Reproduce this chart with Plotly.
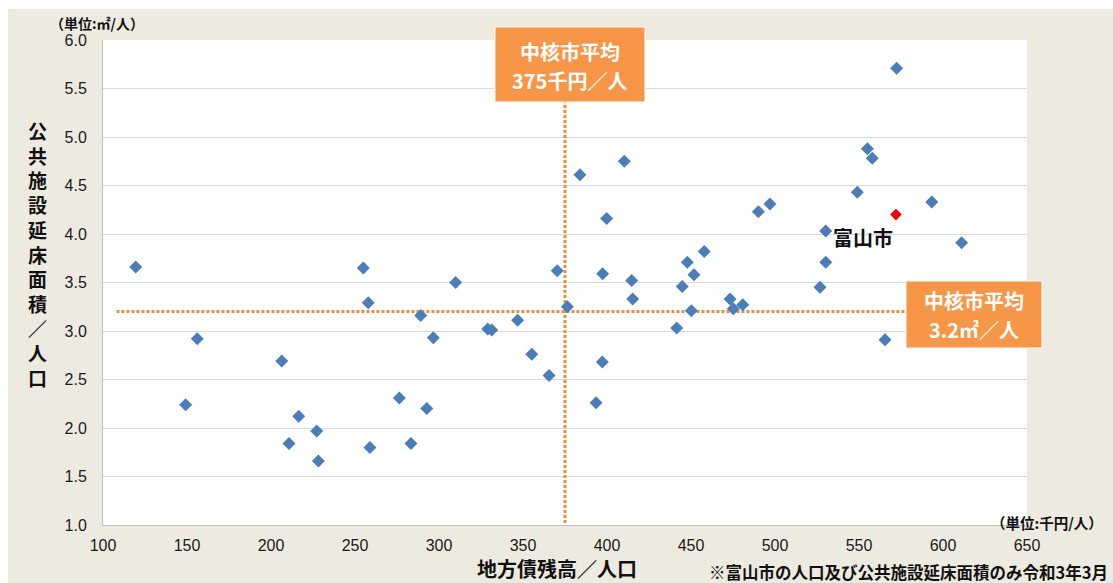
import plotly.graph_objects as go

# Core cities: local bond balance per capita (thousand yen) vs. public facility floor area per capita (m2)
debt_per_capita = [
    119.5, 156.1, 149.2, 206.4, 210.7, 216.5, 227.2, 228.2, 254.9, 257.9,
    258.9, 276.4, 283.3, 289.1, 292.7, 296.6, 309.9, 329.0, 331.4, 346.8,
    355.2, 365.5, 370.4, 376.4, 383.9, 393.5, 397.2, 397.4, 399.8, 410.3,
    414.7, 415.3, 441.5, 444.8, 447.8, 450.2, 451.8, 457.9, 473.2, 475.2,
    480.8, 490.1, 497.0, 526.8, 530.2, 530.2, 549.0, 555.0, 557.9, 565.5,
    572.4, 593.3, 611.1,
]
floor_area_per_capita = [
    3.66, 2.92, 2.24, 2.69, 1.84, 2.12, 1.97, 1.66, 3.65, 3.29,
    1.80, 2.31, 1.84, 3.16, 2.20, 2.93, 3.50, 3.02, 3.01, 3.11,
    2.76, 2.54, 3.62, 3.25, 4.61, 2.26, 2.68, 3.59, 4.16, 4.75,
    3.52, 3.33, 3.03, 3.46, 3.71, 3.21, 3.58, 3.82, 3.33, 3.23,
    3.27, 4.23, 4.31, 3.45, 4.03, 3.71, 4.43, 4.88, 4.78, 2.91,
    5.71, 4.33, 3.91,
]

toyama_name = "富山市"
toyama_debt = 572
toyama_area = 4.2

avg_debt = 375      # core-city average, thousand yen per person
avg_area = 3.2      # core-city average, m2 per person

x_ticks = [100, 150, 200, 250, 300, 350, 400, 450, 500, 550, 600, 650]
y_ticks = [1.0, 1.5, 2.0, 2.5, 3.0, 3.5, 4.0, 4.5, 5.0, 5.5, 6.0]

y_title = "公共施設延床面積／人口"
x_title = "地方債残高／人口"
y_unit = "（単位:㎡/人）"
x_unit = "（単位:千円/人）"
note = "※富山市の人口及び公共施設延床面積のみ令和3年3月"
box_debt = ["中核市平均", f"{avg_debt}千円／人"]
box_area = ["中核市平均", f"{avg_area}㎡／人"]

BLUE = "#4A7EBB"
ORANGE = "#F79646"
DOT = "#F28C36"
BG = "#EDEAE0"
JP = "Noto Sans CJK JP"
NUM = "Liberation Sans"

fig = go.Figure()

# dotted average lines
dotted = dict(color=DOT, width=3, dash="3px,2px")
fig.add_trace(go.Scatter(
    x=[avg_debt, avg_debt], y=[1.02, 5.36], mode="lines",
    line=dotted, hoverinfo="skip",
))
fig.add_trace(go.Scatter(
    x=[108, 578], y=[avg_area, avg_area], mode="lines",
    line=dotted, hoverinfo="skip",
))

# cities
fig.add_trace(go.Scatter(
    x=debt_per_capita, y=floor_area_per_capita, mode="markers",
    marker=dict(symbol="diamond", size=10, color=BLUE, line=dict(width=0)),
))
fig.add_trace(go.Scatter(
    x=[toyama_debt], y=[toyama_area], mode="markers",
    marker=dict(symbol="diamond", size=9, color="#FF0000", line=dict(width=0)),
))


def label(text, x, y, size, color="#111111", xanchor="center", xref="paper", yref="paper"):
    return dict(text=f"<b>{text}</b>", xref=xref, yref=yref, x=x, y=y,
                xanchor=xanchor, yanchor="middle", showarrow=False,
                font=dict(family=JP, size=size, color=color))


annotations = [
    dict(text="<br>".join(f"<b>{c}</b>" for c in y_title),
         xref="paper", yref="paper", x=-0.0714, y=0.5588,
         xanchor="center", yanchor="middle", showarrow=False,
         font=dict(family=JP, size=19, color="#111111")),
    label(y_unit, -0.0595, 1.035, 14, xanchor="left"),
    label(x_title, 0.4913, -0.0907, 20),
    label(x_unit, 1.0844, 0.006, 14.5, xanchor="right"),
    label(note, 1.0898, -0.0969, 16.5, xanchor="right"),
    label(toyama_name, 552.4, 3.96, 20, xref="x", yref="y"),
    # average callout boxes, one annotation per line
    label(box_debt[0], 0.5054, 0.9753, 20, color="#FFFFFF"),
    label(box_debt[1], 0.5054, 0.9175, 20, color="#FFFFFF"),
    label(box_area[0], 0.9426, 0.4625, 20, color="#FFFFFF"),
    label(box_area[1], 0.9426, 0.4021, 20, color="#FFFFFF"),
]

shapes = [
    # thin white frame around the beige panel (top and left edges)
    dict(type="rect", xref="paper", yref="paper", x0=-0.2, x1=1.2,
         y0=1.064, y1=1.2, fillcolor="#FFFFFF", line=dict(width=0), layer="below"),
    dict(type="rect", xref="paper", yref="paper", x0=-0.2, x1=-0.1028,
         y0=-0.2, y1=1.2, fillcolor="#FFFFFF", line=dict(width=0), layer="below"),
    # orange callout boxes
    dict(type="rect", xref="paper", yref="paper", x0=0.4242, x1=0.5866,
         y0=0.8722, y1=1.0268, fillcolor=ORANGE,
         line=dict(color="#FFFFFF", width=1), layer="above"),
    dict(type="rect", xref="paper", yref="paper", x0=0.8690, x1=1.0162,
         y0=0.3649, y1=0.5031, fillcolor=ORANGE,
         line=dict(color="#FFFFFF", width=1), layer="above"),
]

fig.update_layout(
    width=1113, height=583,
    margin=dict(l=103, r=86, t=40, b=58, pad=0),
    paper_bgcolor=BG, plot_bgcolor="#FFFFFF",
    showlegend=False,
    annotations=annotations,
    shapes=shapes,
    xaxis=dict(
        range=[100, 650], tickvals=x_ticks, showgrid=False, zeroline=False,
        showline=True, linecolor="#BFBFBF", linewidth=1, ticks="",
        tickfont=dict(family=NUM, size=16, color="#1A1A1A"),
        ticklabelstandoff=6,
    ),
    yaxis=dict(
        range=[1, 6], tickvals=y_ticks, tickformat=".1f",
        showgrid=True, gridcolor="#D9D9D9", gridwidth=1, zeroline=False,
        showline=True, linecolor="#BFBFBF", linewidth=1, ticks="",
        tickfont=dict(family=NUM, size=16, color="#1A1A1A"),
        ticklabelstandoff=12,
    ),
)

fig.write_html("out.html")
